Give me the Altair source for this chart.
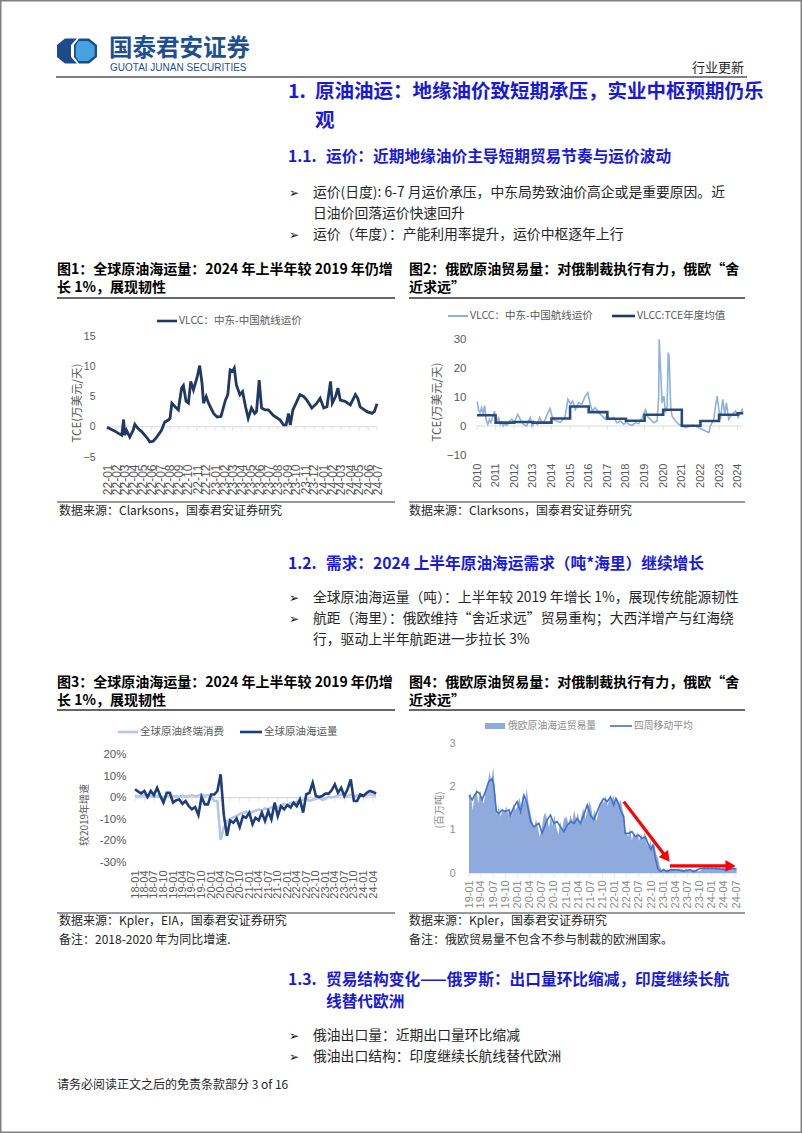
import altair as alt
import pandas as pd

W, H = 802, 1133
CJK = "Noto Sans CJK SC"
LAT = "Liberation Sans"
HEAD_BLUE = "#1a1ad6"
TXT = "#262626"
AX = "#595959"

# ---------------- Chart 1: VLCC MEG-China rate (10k USD/day) ----------------
c1_series = [
    ("2022-01-01", -0.1), ("2022-01-23", -0.6), ("2022-02-09", -1.1), ("2022-02-20", -1.4),
    ("2022-02-26", 1.2), ("2022-03-02", -1.4), ("2022-03-08", -0.6), ("2022-03-19", -1.7),
    ("2022-03-30", -0.6), ("2022-04-05", 0.4), ("2022-04-16", -0.3), ("2022-04-28", -0.8),
    ("2022-05-14", -1.7), ("2022-05-26", -2.5), ("2022-06-06", -2.4), ("2022-06-18", -1.7),
    ("2022-07-04", -0.6), ("2022-07-15", 0.8), ("2022-07-27", 1.1), ("2022-08-02", 1.4),
    ("2022-08-08", 3.9), ("2022-08-19", 3.3), ("2022-08-30", 2.8), ("2022-09-10", 6.4),
    ("2022-09-16", 6.8), ("2022-09-25", 4.2), ("2022-10-03", 3.9), ("2022-10-11", 7.5),
    ("2022-10-20", 6.1), ("2022-11-01", 8.1), ("2022-11-10", 10.1), ("2022-11-18", 7.2),
    ("2022-11-23", 3.9), ("2022-12-02", 5.0), ("2022-12-10", 3.9), ("2022-12-27", 2.2),
    ("2023-01-08", 1.6), ("2023-01-21", 1.7), ("2023-02-05", 4.4), ("2023-02-13", 5.3),
    ("2023-02-21", 9.4), ("2023-03-01", 9.2), ("2023-03-07", 9.7), ("2023-03-14", 6.9),
    ("2023-03-26", 5.3), ("2023-04-04", 5.8), ("2023-04-14", 3.3), ("2023-04-23", 1.4),
    ("2023-05-04", 3.1), ("2023-05-15", 2.2), ("2023-05-21", 2.5), ("2023-05-30", 7.7),
    ("2023-06-07", 3.1), ("2023-06-18", 2.8), ("2023-06-30", 2.8), ("2023-07-16", 1.9),
    ("2023-08-09", 1.1), ("2023-08-20", 0.3), ("2023-08-29", 0.3), ("2023-09-06", 2.2),
    ("2023-09-12", 0.3), ("2023-09-21", 2.8), ("2023-09-29", 3.6), ("2023-10-06", 4.4),
    ("2023-10-15", 5.3), ("2023-10-27", 5.0), ("2023-11-07", 4.4), ("2023-11-24", 3.1),
    ("2023-12-11", 3.9), ("2023-12-22", 4.7), ("2024-01-03", 3.1), ("2024-01-14", 3.3),
    ("2024-01-26", 7.5), ("2024-02-01", 3.9), ("2024-02-12", 5.0), ("2024-02-20", 6.4),
    ("2024-02-28", 4.4), ("2024-03-15", 4.2), ("2024-04-02", 3.6), ("2024-04-19", 5.3),
    ("2024-04-27", 4.7), ("2024-05-05", 3.3), ("2024-05-28", 2.5), ("2024-06-14", 2.2),
    ("2024-06-22", 2.5), ("2024-07-01", 3.8),
]
c1_ticks = ["22-01", "22-02", "22-03", "22-04", "22-05", "22-06", "22-07", "22-08", "22-09",
            "22-10", "22-11", "22-12", "23-01", "23-02", "23-03", "23-04", "23-05", "23-06",
            "23-07", "23-08", "23-09", "23-10", "23-11", "23-12", "24-01", "24-02", "24-03",
            "24-04", "24-05", "24-06", "24-07"]

# ---------------- Chart 2: VLCC daily TCE and yearly average ----------------
c2_series = [
    ("2010-01-05", 8.5), ("2010-02-01", 5.5), ("2010-03-01", 4.5), ("2010-04-01", 6.3),
    ("2010-05-01", 4.0), ("2010-06-01", 7.0), ("2010-07-01", 2.0), ("2010-08-01", 0.6),
    ("2010-09-01", 2.3), ("2010-10-01", 1.2), ("2010-11-01", 3.0), ("2010-12-10", 5.2),
    ("2011-01-10", 1.2), ("2011-03-01", 2.8), ("2011-04-01", 0.6), ("2011-05-01", 1.4),
    ("2011-06-01", 0.0), ("2011-07-01", 0.9), ("2011-08-01", 0.3), ("2011-09-01", 0.6),
    ("2011-10-01", 1.7), ("2011-11-15", 2.3), ("2012-01-01", 1.2), ("2012-02-01", 2.5),
    ("2012-03-10", 4.0), ("2012-04-10", 3.0), ("2012-05-10", 1.7), ("2012-07-01", 0.6),
    ("2012-09-01", 0.0), ("2012-10-10", 1.7), ("2012-11-10", 2.9), ("2012-12-15", 0.0),
    ("2013-02-01", 1.2), ("2013-04-01", 0.6), ("2013-05-15", 2.9), ("2013-07-01", 1.2),
    ("2013-08-15", 1.7), ("2013-10-10", 4.0), ("2013-12-05", 6.0), ("2014-01-10", 3.5),
    ("2014-02-15", 2.3), ("2014-04-10", 1.7), ("2014-06-20", 1.2), ("2014-08-20", 2.3),
    ("2014-09-25", 3.2), ("2014-11-20", 9.2), ("2015-01-10", 7.5), ("2015-02-20", 8.6),
    ("2015-04-15", 5.7), ("2015-06-15", 8.0), ("2015-08-20", 7.5), ("2015-10-25", 10.3),
    ("2015-12-15", 11.5), ("2016-02-01", 7.5), ("2016-03-10", 5.2), ("2016-05-10", 6.3),
    ("2016-07-15", 4.6), ("2016-09-20", 3.5), ("2016-11-20", 2.3), ("2016-12-25", 4.0),
    ("2017-03-01", 2.3), ("2017-05-05", 2.9), ("2017-07-10", 1.1), ("2017-09-15", 1.7),
    ("2017-11-20", 0.6), ("2018-01-20", 1.4), ("2018-02-25", 0.6), ("2018-05-01", 0.2),
    ("2018-07-05", 1.1), ("2018-09-10", 0.8), ("2018-11-15", 2.9), ("2019-01-20", 5.7),
    ("2019-02-20", 3.4), ("2019-04-25", 2.3), ("2019-07-01", 1.1), ("2019-09-05", 1.7),
    ("2019-10-05", 10.3), ("2019-10-15", 29.9), ("2019-11-20", 16.0), ("2019-12-10", 8.0),
    ("2020-01-15", 10.3), ("2020-02-15", 4.6), ("2020-03-20", 6.9), ("2020-04-08", 25.3),
    ("2020-04-25", 24.0), ("2020-05-10", 16.0), ("2020-05-30", 5.7), ("2020-06-25", 3.4),
    ("2020-08-30", 1.7), ("2020-11-01", 0.6), ("2021-01-05", 0.0), ("2021-03-15", -0.6),
    ("2021-05-20", -0.2), ("2021-07-25", 0.2), ("2021-09-25", 0.0), ("2021-12-01", -0.6),
    ("2022-02-05", -1.1), ("2022-04-10", -1.7), ("2022-06-15", -2.3), ("2022-07-15", 0.0),
    ("2022-09-20", 2.3), ("2022-10-25", 6.9), ("2022-11-25", 10.3), ("2022-12-28", 5.7),
    ("2023-01-30", 2.3), ("2023-03-15", 9.2), ("2023-04-25", 4.0), ("2023-05-25", 8.0),
    ("2023-07-10", 2.3), ("2023-09-15", 4.0), ("2023-11-20", 5.2), ("2024-01-10", 2.9),
    ("2024-02-28", 4.6), ("2024-03-30", 5.7), ("2024-04-15", 4.0),
]
c2_years = ["2010", "2011", "2012", "2013", "2014", "2015", "2016", "2017", "2018",
            "2019", "2020", "2021", "2022", "2023", "2024"]
c2_avg = [3.7, 1.15, 1.4, 1.15, 2.6, 6.7, 4.8, 2.5, 1.8, 3.9, 5.6, 0.1, 1.7, 3.9, 4.4]
c2_end = "2024-04-15"

# ---------------- Chart 3: growth vs 2019 (%) ----------------
c3_months = [
    "2018-01-01", "2018-02-01", "2018-03-01", "2018-04-01", "2018-05-01", "2018-06-01",
    "2018-07-01", "2018-08-01", "2018-09-01", "2018-10-01", "2018-11-01", "2018-12-01",
    "2019-01-01", "2019-02-01", "2019-03-01", "2019-04-01", "2019-05-01", "2019-06-01",
    "2019-07-01", "2019-08-01", "2019-09-01", "2019-10-01", "2019-11-01", "2019-12-01",
    "2020-01-01", "2020-02-01", "2020-03-01", "2020-04-01", "2020-05-01", "2020-06-01",
    "2020-07-01", "2020-08-01", "2020-09-01", "2020-10-01", "2020-11-01", "2020-12-01",
    "2021-01-01", "2021-02-01", "2021-03-01", "2021-04-01", "2021-05-01", "2021-06-01",
    "2021-07-01", "2021-08-01", "2021-09-01", "2021-10-01", "2021-11-01", "2021-12-01",
    "2022-01-01", "2022-02-01", "2022-03-01", "2022-04-01", "2022-05-01", "2022-06-01",
    "2022-07-01", "2022-08-01", "2022-09-01", "2022-10-01", "2022-11-01", "2022-12-01",
    "2023-01-01", "2023-02-01", "2023-03-01", "2023-04-01", "2023-05-01", "2023-06-01",
    "2023-07-01", "2023-08-01", "2023-09-01", "2023-10-01", "2023-11-01", "2023-12-01",
    "2024-01-01", "2024-02-01", "2024-03-01", "2024-04-01", "2024-05-01",
]
c3_consumption = [
    1.0, 0.5, 0.8, 1.2, 0.5, 1.0, 0.3, 0.8, 0.5, 0.2, 0.8, 1.0,
    0.5, 0.8, 0.3, 1.0, 0.5, 0.8, 1.2, 0.6, 1.0, 1.5, 0.8, 1.2,
    0.5, -1.5, -1.5, -19.5, -14.0, -11.0, -10.0, -9.0, -8.5, -7.5, -7.0, -6.5,
    -7.5, -6.5, -6.0, -5.5, -6.0, -5.0, -5.5, -4.5, -4.0, -4.5, -3.5, -3.0,
    -3.5, -2.5, -2.5, -2.0, -1.5, -1.0, -0.5, -1.5, -1.0, -0.5, 0.0, -1.0,
    -0.5, 0.5, 0.0, 0.5, 1.0, 1.5, 1.0, 0.5, 1.5, 0.5, 1.0, 1.5,
    0.8, 1.2, 1.5, 1.2, 1.0,
]
c3_seaborne = [
    3.9, 2.8, 2.0, 3.1, 0.3, 3.1, 1.2, 4.6, 0.8, -2.3, 2.3, 2.3,
    -2.3, -1.2, -0.8, -2.8, -1.5, -3.9, -5.4, -4.3, -8.0, 0.3, -3.1, -3.1,
    1.5, 1.5, 3.1, 10.8, -7.7, -17.7, -10.5, -11.6, -9.6, -13.6, -8.5, -9.3,
    -6.9, -12.3, -9.3, -10.5, -6.9, -10.8, -6.2, -10.0, -2.3, -8.5, -3.9, -5.4,
    -3.4, -4.6, -2.3, -3.9, -0.8, -6.9, 1.5, 2.3, 6.9, 0.8, 0.3, 0.8,
    1.9, 1.9, 3.4, 6.2, 2.3, 4.6, 0.8, 3.9, 8.5, -1.5, -1.5, 1.5,
    0.8, 2.3, 3.1, 2.6, 2.0,
]
c3_ticks = ["18-01", "18-04", "18-07", "18-10", "19-01", "19-04", "19-07", "19-10",
            "20-01", "20-04", "20-07", "20-10", "21-01", "21-04", "21-07", "21-10",
            "22-01", "22-04", "22-07", "22-10", "23-01", "23-04", "23-07", "23-10",
            "24-01", "24-04"]

# ---------------- Chart 4: Russia-Europe seaborne crude (Mt) ----------------
c4_volume = [
    ("2019-01-01", 1.75), ("2019-01-15", 1.85), ("2019-01-29", 1.45), ("2019-02-12", 1.80),
    ("2019-02-26", 1.95), ("2019-03-12", 1.60), ("2019-03-26", 1.90), ("2019-04-09", 1.70),
    ("2019-04-23", 1.60), ("2019-05-07", 1.95), ("2019-05-21", 2.05), ("2019-06-04", 2.35),
    ("2019-06-18", 2.10), ("2019-07-02", 2.45), ("2019-07-16", 1.90), ("2019-07-30", 1.35),
    ("2019-08-13", 1.55), ("2019-08-27", 1.30), ("2019-09-10", 1.50), ("2019-09-24", 1.40),
    ("2019-10-08", 1.55), ("2019-10-22", 1.35), ("2019-11-05", 1.50), ("2019-11-19", 1.30),
    ("2019-12-03", 1.60), ("2019-12-17", 1.45), ("2019-12-31", 1.55), ("2020-01-14", 1.75),
    ("2020-01-28", 1.55), ("2020-02-11", 1.80), ("2020-02-25", 1.65), ("2020-03-10", 1.95),
    ("2020-03-24", 1.60), ("2020-04-07", 1.40), ("2020-04-21", 1.20), ("2020-05-05", 1.05),
    ("2020-05-19", 1.25), ("2020-06-02", 1.05), ("2020-06-16", 0.85), ("2020-06-30", 1.00),
    ("2020-07-14", 1.30), ("2020-07-28", 1.40), ("2020-08-11", 1.25), ("2020-08-25", 1.05),
    ("2020-09-08", 1.30), ("2020-09-22", 1.10), ("2020-10-06", 1.35), ("2020-10-20", 1.05),
    ("2020-11-03", 0.90), ("2020-11-17", 1.20), ("2020-12-01", 1.00), ("2020-12-15", 1.25),
    ("2021-01-05", 1.30), ("2021-01-19", 1.10), ("2021-02-02", 1.35), ("2021-02-16", 1.20),
    ("2021-03-02", 1.45), ("2021-03-16", 1.25), ("2021-03-30", 1.40), ("2021-04-13", 1.15),
    ("2021-04-27", 1.35), ("2021-05-11", 1.50), ("2021-05-25", 1.25), ("2021-06-08", 1.45),
    ("2021-06-22", 1.65), ("2021-07-06", 1.55), ("2021-07-20", 1.30), ("2021-08-03", 1.45),
    ("2021-08-17", 1.20), ("2021-08-31", 1.40), ("2021-09-14", 1.55), ("2021-09-28", 1.75),
    ("2021-10-12", 1.60), ("2021-10-26", 1.80), ("2021-11-09", 1.55), ("2021-11-23", 1.75),
    ("2021-12-07", 1.65), ("2021-12-21", 1.80), ("2022-01-04", 1.60), ("2022-01-18", 1.75),
    ("2022-02-01", 1.55), ("2022-02-15", 1.70), ("2022-03-01", 1.45), ("2022-03-15", 1.30),
    ("2022-03-22", 0.95), ("2022-04-12", 0.85), ("2022-04-26", 1.05), ("2022-05-10", 0.75),
    ("2022-05-24", 0.95), ("2022-06-07", 0.85), ("2022-06-21", 0.95), ("2022-07-05", 0.75),
    ("2022-07-19", 0.90), ("2022-08-02", 0.80), ("2022-08-16", 0.95), ("2022-08-30", 0.70),
    ("2022-09-13", 0.60), ("2022-09-27", 0.75), ("2022-10-11", 0.55), ("2022-10-25", 0.70),
    ("2022-11-08", 0.45), ("2022-11-22", 0.35), ("2022-12-06", 0.15), ("2022-12-20", 0.08),
    ("2023-01-03", 0.12), ("2023-01-17", 0.05), ("2023-01-31", 0.10), ("2023-02-14", 0.06),
    ("2023-02-28", 0.12), ("2023-03-14", 0.08), ("2023-03-28", 0.10), ("2023-04-11", 0.05),
    ("2023-04-25", 0.12), ("2023-05-09", 0.08), ("2023-05-23", 0.10), ("2023-06-06", 0.06),
    ("2023-06-20", 0.11), ("2023-07-04", 0.07), ("2023-07-18", 0.10), ("2023-08-01", 0.05),
    ("2023-08-15", 0.09), ("2023-08-29", 0.06), ("2023-09-12", 0.08), ("2023-09-26", 0.04),
    ("2023-10-10", 0.07), ("2023-10-24", 0.12), ("2023-11-07", 0.15), ("2023-11-21", 0.13),
    ("2023-12-05", 0.16), ("2023-12-19", 0.12), ("2024-01-02", 0.15), ("2024-01-16", 0.11),
    ("2024-01-30", 0.16), ("2024-02-13", 0.12), ("2024-02-27", 0.15), ("2024-03-12", 0.10),
    ("2024-03-26", 0.14), ("2024-04-09", 0.11), ("2024-04-23", 0.15), ("2024-05-07", 0.09),
    ("2024-05-21", 0.13), ("2024-06-04", 0.10), ("2024-06-18", 0.14), ("2024-07-05", 0.10),
]
c4_ma = [
    ("2019-01-01", 1.80), ("2019-01-25", 1.69), ("2019-02-07", 1.77), ("2019-03-03", 1.88),
    ("2019-03-22", 1.84), ("2019-04-09", 1.69), ("2019-05-04", 1.88), ("2019-05-29", 2.11),
    ("2019-06-23", 2.18), ("2019-07-06", 2.03), ("2019-07-26", 1.42), ("2019-08-13", 1.38),
    ("2019-09-08", 1.46), ("2019-10-02", 1.42), ("2019-10-27", 1.46), ("2019-11-09", 1.34),
    ("2019-12-04", 1.53), ("2019-12-29", 1.65), ("2020-01-24", 1.42), ("2020-02-18", 1.80),
    ("2020-03-13", 1.61), ("2020-04-08", 1.19), ("2020-05-02", 1.07), ("2020-06-09", 1.15),
    ("2020-07-04", 0.92), ("2020-08-11", 1.23), ("2020-09-05", 1.34), ("2020-09-30", 1.15),
    ("2020-10-25", 1.19), ("2020-11-19", 1.07), ("2020-12-15", 0.96), ("2021-01-09", 1.11),
    ("2021-02-04", 1.19), ("2021-02-28", 1.15), ("2021-03-24", 1.26), ("2021-04-18", 1.15),
    ("2021-05-13", 1.34), ("2021-06-08", 1.57), ("2021-07-02", 1.34), ("2021-07-27", 1.23),
    ("2021-08-22", 1.42), ("2021-09-16", 1.61), ("2021-10-11", 1.72), ("2021-11-05", 1.65),
    ("2021-11-30", 1.76), ("2021-12-25", 1.57), ("2022-01-10", 1.72), ("2022-01-28", 1.62),
    ("2022-02-14", 1.45), ("2022-03-09", 1.30), ("2022-03-21", 0.92), ("2022-04-16", 0.92),
    ("2022-05-10", 0.96), ("2022-06-05", 0.84), ("2022-06-30", 0.88), ("2022-07-25", 0.80),
    ("2022-08-19", 0.84), ("2022-09-14", 0.65), ("2022-10-01", 0.54), ("2022-10-16", 0.65),
    ("2022-11-03", 0.34), ("2022-11-21", 0.11), ("2022-12-10", 0.04), ("2023-01-05", 0.08),
    ("2023-01-30", 0.04), ("2023-02-24", 0.08), ("2023-04-14", 0.08), ("2023-06-03", 0.05),
    ("2023-07-23", 0.08), ("2023-08-17", 0.04), ("2023-10-06", 0.11), ("2023-11-26", 0.11),
    ("2024-01-15", 0.11), ("2024-03-05", 0.10), ("2024-04-24", 0.08), ("2024-06-13", 0.11),
    ("2024-07-05", 0.10),
]
c4_ticks = ["19-01", "19-04", "19-07", "19-10", "20-01", "20-04", "20-07", "20-10",
            "21-01", "21-04", "21-07", "21-10", "22-01", "22-04", "22-07", "22-10",
            "23-01", "23-04", "23-07", "23-10", "24-01", "24-04", "24-07"]
# red annotation arrows (start date, start value, end date, end value)
c4_arrows = [("2022-03-10", 1.65, "2023-01-25", 0.363), ("2023-02-21", 0.17, "2024-05-21", 0.17)]


def ms(s):
    return int(pd.Timestamp(s).value // 1_000_000)


def ym(label):
    return "20" + label + "-01"


def xenc(dom, rng, ticks, fmt, size, color, pad, axis_y):
    return alt.X("d:T",
                 scale=alt.Scale(type="utc", domain=[ms(dom[0]), ms(dom[1])], range=rng),
                 axis=alt.Axis(orient="bottom", offset=axis_y - H, values=[ms(t) for t in ticks],
                               format=fmt, labelAngle=-90, labelPadding=pad, labelFontSize=size,
                               labelColor=color, labelFont=LAT, domain=False, ticks=False,
                               tickSize=0, grid=False, labelOverlap=False, labelFlush=False,
                               title=None))


def yenc(dom, rng, values, size, color, pad, axis_x, expr=None):
    kw = dict(orient="left", offset=-axis_x, values=values, labelPadding=pad,
              labelFontSize=size, labelColor=color, labelFont=LAT, domain=False,
              ticks=False, tickSize=0, grid=False, title=None)
    if expr:
        kw["labelExpr"] = expr
    return alt.Y("v:Q", scale=alt.Scale(domain=dom, range=rng, nice=False, zero=False),
                 axis=alt.Axis(**kw))


GRID = "#d9d9d9"

# ---- chart 1 ----
t1 = [ym(t) for t in c1_ticks]
X1 = xenc(("2022-01-01", "2024-07-01"), [107, 377], t1, "%y-%m", 12, AX, 7, 457)
Y1 = yenc([-5, 15], [457, 336], [-5, 0, 5, 10, 15], 10.5, AX, 12, 107)
chart1 = alt.layer(
    alt.Chart(pd.DataFrame({"d": ["2022-01-01"], "d2": ["2024-07-01"], "v": [0]}))
    .mark_rule(color=GRID, strokeWidth=1).encode(x=X1, x2="d2:T", y=Y1),
    alt.Chart(pd.DataFrame({"d": t1, "v": [0] * len(t1)}))
    .mark_tick(orient="vertical", size=4, thickness=1, color=GRID, yOffset=2).encode(x=X1, y=Y1),
    alt.Chart(pd.DataFrame(c1_series, columns=["d", "v"]))
    .mark_line(color="#1f3864", strokeWidth=2.8).encode(x=X1, y=Y1),
)

# ---- chart 2 ----
t2 = [y + "-01-01" for y in c2_years]
X2 = xenc(("2010-01-01", c2_end), [477, 743], t2, "%Y", 11, AX, 8, 455)
Y2 = yenc([-10, 30], [455, 339], [-10, 0, 10, 20, 30], 11.5, AX, 11, 477)
avg_df = pd.DataFrame({"d": t2 + [c2_end], "v": c2_avg + [c2_avg[-1]]})
chart2 = alt.layer(
    alt.Chart(pd.DataFrame({"d": ["2010-01-01"], "d2": [c2_end], "v": [0]}))
    .mark_rule(color=GRID, strokeWidth=1).encode(x=X2, x2="d2:T", y=Y2),
    alt.Chart(pd.DataFrame({"d": t2, "v": [0] * len(t2)}))
    .mark_tick(orient="vertical", size=4, thickness=1, color=GRID, yOffset=2).encode(x=X2, y=Y2),
    alt.Chart(pd.DataFrame(c2_series, columns=["d", "v"]))
    .mark_line(color="#8fb1dd", strokeWidth=1.6).encode(x=X2, y=Y2),
    alt.Chart(avg_df).mark_line(color="#2b4a7c", strokeWidth=2.6, interpolate="step-after")
    .encode(x=X2, y=Y2),
)

# ---- chart 3 ----
t3 = [ym(t) for t in c3_ticks]
X3 = xenc(("2018-01-01", "2024-04-01"), [135, 373], t3, "%y-%m", 11, AX, 7.5, 862.5)
Y3 = yenc([-30, 20], [862.5, 754.5], [-30, -20, -10, 0, 10, 20], 11.5, AX, 9, 135,
          expr="datum.value + '%'")
chart3 = alt.layer(
    alt.Chart(pd.DataFrame({"d": ["2018-01-01"], "d2": ["2024-05-01"], "v": [0]}))
    .mark_rule(color=GRID, strokeWidth=1.2).encode(x=X3, x2="d2:T", y=Y3),
    alt.Chart(pd.DataFrame({"d": t3, "v": [0] * len(t3)}))
    .mark_tick(orient="vertical", size=4, thickness=1, color=GRID, yOffset=2).encode(x=X3, y=Y3),
    alt.Chart(pd.DataFrame({"d": c3_months, "v": c3_consumption}))
    .mark_line(color="#b4c7e7", strokeWidth=2.6).encode(x=X3, y=Y3),
    alt.Chart(pd.DataFrame({"d": c3_months, "v": c3_seaborne}))
    .mark_line(color="#1f3d7a", strokeWidth=2.6).encode(x=X3, y=Y3),
)

# ---- chart 4 ----
t4 = [ym(t) for t in c4_ticks]
X4 = xenc(("2019-01-01", "2024-07-01"), [469, 736], t4, "%y-%m", 11, "#8c8c8c", 6.5, 873.3)
Y4 = yenc([0, 3], [873.3, 743], [0, 1, 2, 3], 10.5, "#8c8c8c", 14, 469)
arrows = pd.DataFrame(c4_arrows, columns=["d", "v", "d2", "v2"])
chart4 = alt.layer(
    alt.Chart(pd.DataFrame({"d": t4, "v": [0] * len(t4)}))
    .mark_tick(orient="vertical", size=4, thickness=1, color=GRID, yOffset=2).encode(x=X4, y=Y4),
    alt.Chart(pd.DataFrame(c4_volume, columns=["d", "v"]))
    .mark_area(color="#8faadc", opacity=1).encode(x=X4, y=Y4),
    alt.Chart(pd.DataFrame(c4_ma, columns=["d", "v"]))
    .mark_line(color="#4472c4", strokeWidth=1.6).encode(x=X4, y=Y4),
    alt.Chart(arrows).mark_rule(color="#ff0000", strokeWidth=3.2)
    .encode(x=X4, x2="d2:T", y=Y4, y2="v2:Q"),
    alt.Chart(pd.DataFrame({"d": [c4_arrows[0][2]], "v": [c4_arrows[0][3]]}))
    .mark_point(shape="triangle-right", filled=True, size=140, color="#ff0000", opacity=1, angle=53)
    .encode(x=X4, y=Y4),
    alt.Chart(pd.DataFrame({"d": [c4_arrows[1][2]], "v": [c4_arrows[1][3]]}))
    .mark_point(shape="triangle-right", filled=True, size=140, color="#ff0000", opacity=1)
    .encode(x=X4, y=Y4),
)


# ---------------- page text & decorations ----------------
def px(f):
    return alt.X(f + ":Q", scale=None, axis=None)


def py(f):
    return alt.Y(f + ":Q", scale=None, axis=None)


def texts(items, size, color, weight="normal", font=CJK, angle=None, align="left"):
    df = pd.DataFrame(items, columns=["t", "x", "y"])
    kw = dict(align=align, baseline="middle", font=font, fontSize=size, color=color,
              fontWeight=weight)
    if angle is not None:
        kw["angle"] = angle
    return alt.Chart(df).mark_text(**kw).encode(x=px("x"), y=py("y"), text="t:N")


def hrules(items, color, width):
    df = pd.DataFrame(items, columns=["x", "x2", "y"])
    return alt.Chart(df).mark_rule(color=color, strokeWidth=width).encode(
        x=px("x"), x2="x2:Q", y=py("y"))


one = pd.DataFrame({"a": [0]})


def logo_part(path, color):
    return alt.Chart(one).mark_point(shape=path, filled=True, size=1600, color=color,
                                     opacity=1).encode(x=alt.value(77), y=alt.value(51))


logo = [
    logo_part("M-1,-0.3 L-0.6,-0.62 L0,-0.62 L-0.3,-0.3 L-0.3,0.3 L0,0.62 L-0.6,0.62 L-1,0.3 Z",
              "#1c4b8c"),
    logo_part("M0.1,-0.62 L0.6,-0.62 L1,-0.3 L1,0.3 L0.6,0.62 L0.1,0.62 L-0.15,0.3 L-0.15,-0.3 Z",
              "#1c4b8c"),
    logo_part("M0.08,-0.5 L0.55,-0.5 L0.88,-0.25 L0.88,0.25 L0.55,0.5 L0.08,0.5 L-0.06,0.27 L-0.06,-0.27 Z",
              "#47a3df"),
]

brand = [
    texts([("国泰君安证券", 109, 48.5)], 23.5, "#1e4f91", weight="bold"),
    texts([("GUOTAI JUNAN SECURITIES", 110, 67.5)], 10, "#1e4f91", font=LAT),
]

head1 = texts([("1.", 288, 92), ("原油油运：地缘油价致短期承压，实业中枢预期仍乐", 315, 92),
               ("观", 315, 121)], 19.5, HEAD_BLUE, weight="bold")
head2 = texts([("1.1.", 288, 157), ("运价：近期地缘油价主导短期贸易节奏与运价波动", 326, 157),
               ("1.2.", 288, 564), ("需求：2024 上半年原油海运需求（吨*海里）继续增长", 326, 564),
               ("1.3.", 288, 980), ("贸易结构变化——俄罗斯：出口量环比缩减，印度继续长航", 326, 980),
               ("线替代欧洲", 326, 1002)], 15.7, HEAD_BLUE, weight="bold")

bullet_marks = texts([("➢", 289, 193), ("➢", 289, 235), ("➢", 289, 598), ("➢", 289, 619),
                      ("➢", 289, 1036), ("➢", 289, 1057)], 12, "#111111", font="DejaVu Sans")
bullets = texts([
    ("运价(日度): 6-7 月运价承压，中东局势致油价高企或是重要原因。近", 313, 193),
    ("日油价回落运价快速回升", 313, 214),
    ("运价（年度）：产能利用率提升，运价中枢逐年上行", 313, 235),
    ("全球原油海运量（吨）：上半年较 2019 年增长 1%，展现传统能源韧性", 313, 598),
    ("航距（海里）：俄欧维持“舍近求远”贸易重构；大西洋增产与红海绕", 313, 619),
    ("行，驱动上半年航距进一步拉长 3%", 313, 640),
    ("俄油出口量：近期出口量环比缩减", 313, 1036),
    ("俄油出口结构：印度继续长航线替代欧洲", 313, 1057),
], 13.8, TXT)

fig_titles = texts([
    ("图1：全球原油海运量：2024 年上半年较 2019 年仍增", 57, 270),
    ("长 1%，展现韧性", 57, 288),
    ("图2：俄欧原油贸易量：对俄制裁执行有力，俄欧“舍", 409, 270),
    ("近求远”", 409, 288),
    ("图3：全球原油海运量：2024 年上半年较 2019 年仍增", 57, 683),
    ("长 1%，展现韧性", 57, 701),
    ("图4：俄欧原油贸易量：对俄制裁执行有力，俄欧“舍", 409, 683),
    ("近求远”", 409, 701),
], 14, "#000000", weight="bold")

small = texts([
    ("数据来源：Clarksons，国泰君安证券研究", 59, 511),
    ("数据来源：Clarksons，国泰君安证券研究", 409, 511),
    ("数据来源：Kpler，EIA，国泰君安证券研究", 59, 921),
    ("数据来源：Kpler，国泰君安证券研究", 409, 921),
    ("备注：2018-2020 年为同比增速.", 59, 940),
    ("备注：俄欧贸易量不包含不参与制裁的欧洲国家。", 409, 940),
    ("请务必阅读正文之后的免责条款部分 3 of 16", 57, 1085),
], 12, TXT)
tag = texts([("行业更新", 692, 68)], 13, TXT)

legends = [
    texts([("VLCC：中东-中国航线运价", 179, 321), ("VLCC：中东-中国航线运价", 470, 316),
           ("VLCC:TCE年度均值", 637, 316), ("全球原油终端消费", 140, 732),
           ("全球原油海运量", 264, 732)], 10.5, AX),
    texts([("俄欧原油海运贸易量", 508, 726), ("四周移动平均", 634, 726)], 9.8, "#8c8c8c"),
    hrules([(157, 177, 321), (612, 635, 316)], "#1f3864", 2.6),
    hrules([(448, 468, 316)], "#8fb1dd", 2),
    hrules([(118, 138, 732)], "#b4c7e7", 2.6),
    hrules([(240, 262, 732)], "#1f3d7a", 2.6),
    hrules([(610, 632, 726)], "#4472c4", 1.6),
    alt.Chart(pd.DataFrame({"x": [485], "x2": [505], "y": [723], "y2": [729]}))
    .mark_rect(color="#8faadc").encode(x=px("x"), x2="x2:Q", y=py("y"), y2="y2:Q"),
]

ytitles = [
    texts([("TCE(万美元/天)", 78, 403), ("TCE(万美元/天)", 438, 402)], 11.5, AX, angle=270,
          align="center"),
    texts([("较2019年增速", 85, 815)], 10, AX, angle=270, align="center"),
    texts([("(百万吨)", 440, 810)], 10, "#8c8c8c", angle=270, align="center"),
]

rules = [
    hrules([(56, 747, 77)], "#555555", 1.6),
    hrules([(57, 395, 298), (409, 745, 298), (57, 395, 710), (409, 745, 710)], "#333333", 1.3),
    hrules([(57, 395, 502), (409, 745, 502), (57, 395, 913), (409, 745, 913)], "#333333", 1),
]

layers = (logo + brand + [tag, head1, head2, bullet_marks, bullets, fig_titles, small]
          + legends + ytitles + rules + [chart1, chart2, chart3, chart4])

chart = (
    alt.layer(*layers)
    .properties(width=W, height=H, padding=0, background="white",
                autosize=alt.AutoSizeParams(type="none"))
    .resolve_scale(x="independent", y="independent")
    .configure_view(stroke="#808080", strokeWidth=3)
)

chart.save("out.html", embed_options={"renderer": "svg", "actions": False})
